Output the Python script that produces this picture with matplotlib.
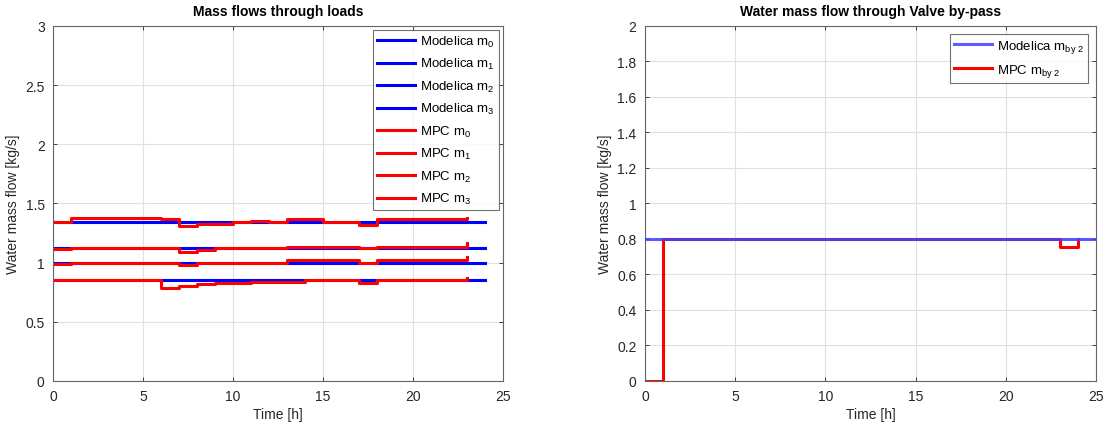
import numpy as np
import matplotlib
matplotlib.use("Agg")
from matplotlib import pyplot as plt

plt.rcParams['font.family'] = ['Liberation Sans', 'DejaVu Sans']
plt.rcParams['mathtext.fontset'] = 'custom'
plt.rcParams['mathtext.rm'] = 'Liberation Sans'
plt.rcParams['mathtext.it'] = 'Liberation Sans'

# hourly time steps
t_hours = np.arange(0, 24)

# Modelica load flows (constant)
modelica_t = [0, 24]
modelica_m0 = [1.34, 1.34]
modelica_m1 = [1.12, 1.12]
modelica_m2 = [1.00, 1.00]
modelica_m3 = [0.85, 0.85]

# MPC load flows, one value per hour
mpc_m0 = [1.34, 1.38, 1.38, 1.38, 1.38, 1.38, 1.37, 1.31, 1.33, 1.33, 1.34, 1.35,
          1.34, 1.37, 1.37, 1.34, 1.34, 1.32, 1.37, 1.37, 1.37, 1.37, 1.37, 1.375]
mpc_m1 = [1.115, 1.12, 1.12, 1.12, 1.12, 1.12, 1.12, 1.09, 1.11, 1.12, 1.12, 1.12,
          1.12, 1.13, 1.13, 1.13, 1.13, 1.12, 1.13, 1.13, 1.13, 1.13, 1.13, 1.165]
mpc_m2 = [0.99, 1.00, 0.995, 0.995, 0.995, 0.995, 0.995, 0.98, 1.00, 1.00, 1.00, 1.00,
          1.00, 1.02, 1.02, 1.02, 1.02, 1.00, 1.02, 1.02, 1.02, 1.02, 1.02, 1.05]
mpc_m3 = [0.85, 0.85, 0.85, 0.85, 0.85, 0.85, 0.783, 0.805, 0.816, 0.827, 0.827, 0.835,
          0.835, 0.84, 0.855, 0.855, 0.855, 0.83, 0.85, 0.85, 0.85, 0.85, 0.85, 0.87]

# valve by-pass
bypass_modelica_t = [0, 25]
bypass_modelica = [0.8, 0.8]
bypass_t = np.arange(0, 25)
bypass_mpc = [0.0] + [0.8] * 22 + [0.757, 0.8]

fig = plt.figure(figsize=(11.04, 4.27), dpi=100)
ax1 = fig.add_axes([0.048, 0.1054, 0.4076, 0.8314])
ax2 = fig.add_axes([0.5842, 0.1054, 0.4085, 0.8314])

blue = (0, 0, 1)
red = (1, 0, 0)
lw = 2.2

for y, k in zip([modelica_m0, modelica_m1, modelica_m2, modelica_m3], range(4)):
    ax1.plot(modelica_t, y, color=blue, lw=lw, label='Modelica m$_{%d}$' % k)
for y, k in zip([mpc_m0, mpc_m1, mpc_m2, mpc_m3], range(4)):
    ax1.step(t_hours, y, where='post', color=red, lw=lw, label='MPC m$_{%d}$' % k)

ax2.step(bypass_t, bypass_mpc, where='post', color=red, lw=lw, zorder=2,
         label=r'MPC m$_{\mathrm{by\ 2}}$')
ax2.plot(bypass_modelica_t, bypass_modelica, color=(0.25, 0.25, 1), lw=lw, alpha=0.85,
         zorder=3, label=r'Modelica m$_{\mathrm{by\ 2}}$')

def style(ax, ymax, yticks, title):
    ax.set_xlim(0, 25)
    ax.set_ylim(0, ymax)
    ax.set_xticks([0, 5, 10, 15, 20, 25])
    ax.set_yticks(yticks)
    ax.set_yticklabels(['%g' % v for v in yticks])
    ax.grid(True, color=(0.88, 0.88, 0.88), lw=0.8)
    ax.set_axisbelow(True)
    ax.tick_params(direction='in', top=True, right=True, length=3, labelsize=10,
                   colors=(0.15, 0.15, 0.15), width=0.6, pad=6)
    for s in ax.spines.values():
        s.set_color((0.4, 0.4, 0.4))
        s.set_linewidth(0.8)
    ax.set_xlabel('Time [h]', fontsize=10, color=(0.15, 0.15, 0.15), labelpad=3)
    ax.set_ylabel('Water mass flow [kg/s]', fontsize=10, color=(0.15, 0.15, 0.15), labelpad=4)
    ax.set_title(title, fontsize=10, fontweight='bold', pad=8)

style(ax1, 3, [0, 0.5, 1, 1.5, 2, 2.5, 3], 'Mass flows through loads')
style(ax2, 2, [0, 0.2, 0.4, 0.6, 0.8, 1, 1.2, 1.4, 1.6, 1.8, 2],
      'Water mass flow through Valve by-pass')

leg1 = ax1.legend(loc='upper right', fontsize=9.5, handlelength=2.9, labelspacing=0.56,
                  borderaxespad=0.3, fancybox=False, edgecolor=(0.3, 0.3, 0.3),
                  handletextpad=0.4, borderpad=0.3)
leg1.get_frame().set_linewidth(0.8)

h, l = ax2.get_legend_handles_labels()
leg2 = ax2.legend(h[::-1], l[::-1], loc='upper right', fontsize=9.5, handlelength=2.9,
                  labelspacing=0.55, borderaxespad=0.6, fancybox=False,
                  edgecolor=(0.3, 0.3, 0.3), handletextpad=0.4, borderpad=0.3)
leg2.get_frame().set_linewidth(0.8)

fig.savefig('out.png', dpi=100)
